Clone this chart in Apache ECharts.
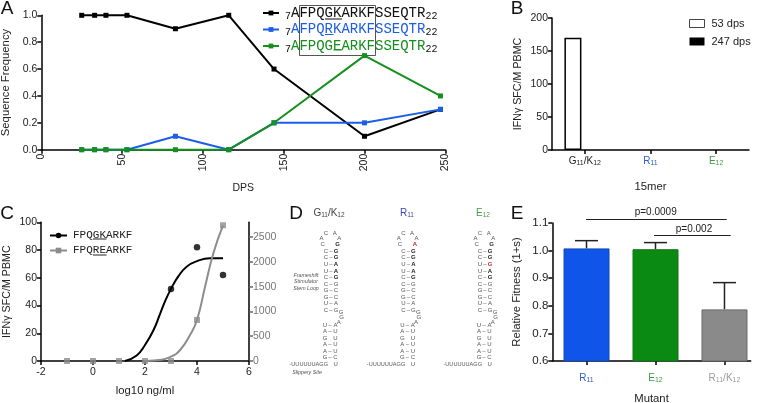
<!DOCTYPE html>
<html><head><meta charset="utf-8">
<style>html,body{margin:0;padding:0;background:#fff}#c{width:760px;height:403px}</style>
<script src="https://cdn.jsdelivr.net/npm/echarts@6/dist/echarts.min.js"></script>
</head><body><div id="c"></div>
<script>
// Panel A
const dps = [25,33,40,53,83,116,144,200,247];
const seqGK = [1,1,1,1,0.9,1,0.6,0.1,0.3];
const seqR  = [0,0,0,0,0.1,0,0.2,0.2,0.3];
const seqE  = [0,0,0,0,0,0,0.2,0.7,0.4];
const seqNames = ['AFPQGKARKFSSEQTR','AFPQRKARKFSSEQTR','AFPQGEARKFSSEQTR'];
// Panel B
const peptides = ['G11/K12','R11','E12'];
const dps53 = [170,0,0];
const dps247 = [0,0,0];
// Panel C
const gkDoses = [3,4,5];
const gkDots = [52,82,62];
const reDoses = [-1,0,1,2,3,4,5];
const reDots = [0,0,0,0,0,829,2740];
const gkFitX = [1.23,1.68,2,2.32,2.58,2.77,3,3.28,3.6,4,4.5,5];
const gkFitY = [0,4,11.5,22,34,43,52,61,68,72,74,74];
const reFitX = [1.95,2.45,3,3.35,3.73,4,4.31,4.63,5];
const reFitY = [0,13,88,222,525,829,1500,2177,2740];
// Panel E
const mutants = ['R11','E12','R11/K12'];
const fitness = [1.008,1.005,0.787];
const fitnessUpper = [1.036,1.029,0.884];
// Panel D
const stemUpper = ['C-G','C-G','U-A','U-A','C-G','C-G','G-C','G-C','U-A','C-G'];
const stemLower = ['U-A','A-U','G U','A-U','A-U','G-C'];
const loopTips = [['C','A','A','A','C','G'],['C','A','A','A','C','A'],['C','A','A','A','C','G']];

const BLUE='#1c5ee6', GREEN='#15901c', GRAY='#8c8c8c', FONT='"Liberation Sans"';
const MONO='"Liberation Mono"';
const chart = echarts.init(document.getElementById('c'),null,{renderer:'canvas'});

function axisBase(extra){
  return Object.assign({
    axisLine:{show:true,onZero:false,lineStyle:{color:'#000',width:1.5}},
    axisTick:{show:true,length:4,lineStyle:{color:'#000',width:1.5}},
    splitLine:{show:false},
    nameLocation:'middle',
    nameTextStyle:{color:'#222',fontSize:11.3,fontFamily:FONT},
  },extra);
}
const tickFont=(s,extra)=>Object.assign({color:'#222',fontSize:s,fontFamily:FONT,margin:4},extra||{});

const subStyle=(c,s)=>({color:c,fontSize:s,fontFamily:FONT,verticalAlign:'bottom',padding:[4,0,0,0]});
const mainStyle=(c,s)=>({color:c,fontSize:s,fontFamily:FONT});
const labelRich={
  k:mainStyle('#222',10), ks:subStyle('#222',7),
  b:mainStyle('#2f5fd0',10), bs:subStyle('#2f5fd0',7),
  g:mainStyle('#3f9a45',10), gs:subStyle('#3f9a45',7),
  y:mainStyle('#9a9a9a',10), ys:subStyle('#9a9a9a',7)
};
const peptideLabels={'G11/K12':'{k|G}{ks|11}{k|/K}{ks|12}','R11':'{b|R}{bs|11}','E12':'{g|E}{gs|12}'};
const mutantLabels=['{b|R}{bs|11}','{g|E}{gs|12}','{y|R}{ys|11}{y|/K}{ys|12}'];

const seqRich={
  n:{fontFamily:MONO,fontSize:14,color:'#111',lineHeight:14},
  u:{fontFamily:MONO,fontSize:14,color:BLUE,lineHeight:14},
  e:{fontFamily:MONO,fontSize:14,color:GREEN,lineHeight:14},
  s:{fontFamily:MONO,fontSize:10,color:'#111',verticalAlign:'bottom',padding:[6,0,0,0]}
};
const seqStyle={[seqNames[0]]:'n',[seqNames[1]]:'u',[seqNames[2]]:'e'};

const series=[
  {name:seqNames[0],type:'line',xAxisIndex:0,yAxisIndex:0,data:dps.map((d,i)=>[d,seqGK[i]]),
   color:'#000',symbol:'rect',symbolSize:5,lineStyle:{width:2,color:'#000'},clip:false,z:3},
  {name:seqNames[1],type:'line',xAxisIndex:0,yAxisIndex:0,data:dps.map((d,i)=>[d,seqR[i]]),
   color:BLUE,symbol:'rect',symbolSize:5,lineStyle:{width:2,color:BLUE},clip:false,z:4},
  {name:seqNames[2],type:'line',xAxisIndex:0,yAxisIndex:0,data:dps.map((d,i)=>[d,seqE[i]]),
   color:GREEN,symbol:'rect',symbolSize:5,lineStyle:{width:2,color:GREEN},clip:false,z:5},

  {name:'53 dps',type:'bar',xAxisIndex:1,yAxisIndex:1,barWidth:17,barGap:'40%',
   itemStyle:{color:'#fff',borderColor:'#000',borderWidth:0},
   data:dps53.map(v=>({value:v,itemStyle:{borderWidth:v>0?1.5:0}}))},
  {name:'247 dps',type:'bar',xAxisIndex:1,yAxisIndex:1,data:dps247,barWidth:17,
   itemStyle:{color:'#000'}},

  {name:'FPQGKARKF',type:'line',xAxisIndex:2,yAxisIndex:2,data:gkFitX.map((d,i)=>[d,gkFitY[i]]),
   color:'#000',symbol:'circle',showSymbol:false,smooth:0.5,lineStyle:{width:2,color:'#000'},clip:false,z:3},
  {name:'gk-dots',type:'scatter',xAxisIndex:2,yAxisIndex:2,data:gkDoses.map((d,i)=>[d,gkDots[i]]),
   color:'#000',symbol:'circle',symbolSize:6.5,clip:false,z:3},
  {name:'FPQREARKF',type:'line',xAxisIndex:2,yAxisIndex:3,data:reFitX.map((d,i)=>[d,reFitY[i]]),
   color:GRAY,symbol:'rect',showSymbol:false,smooth:0.5,lineStyle:{width:2,color:GRAY},clip:false,z:4},
  {name:'re-dots',type:'scatter',xAxisIndex:2,yAxisIndex:3,data:reDoses.map((d,i)=>[d,reDots[i]]),
   color:GRAY,symbol:'rect',symbolSize:6,clip:false,z:4},

  {name:'fitness',type:'bar',xAxisIndex:3,yAxisIndex:4,barWidth:46,
   data:fitness.map((v,i)=>({value:[i,v],itemStyle:{color:[ '#1055ea','#0a8a12','#8a8a8a'][i],borderColor:['#1a4aa8','#17701c','#6a6a6a'][i],borderWidth:1}}))},
  {name:'fitness-err',type:'custom',xAxisIndex:3,yAxisIndex:4,z:1,
   data:fitness.map((v,i)=>[i,v,fitnessUpper[i]]),
   renderItem:(p,api)=>{
     const a=api.coord([api.value(0),api.value(1)]), b=api.coord([api.value(0),api.value(2)]);
     const st={stroke:'#222',lineWidth:1.5};
     return {type:'group',children:[
       {type:'line',shape:{x1:a[0],y1:a[1],x2:b[0],y2:b[1]},style:st},
       {type:'line',shape:{x1:b[0]-11.5,y1:b[1],x2:b[0]+11.5,y2:b[1]},style:st}
     ]};
   }}
];

const g=[];
function txt(x,y,text,fill,font,align,rich){
  g.push({type:'text',x,y,silent:true,style:{text,fill,font,textAlign:align||'center',align:align||'center',textVerticalAlign:'middle',verticalAlign:'middle',rich}});
}
function seg(x1,y1,x2,y2,color,w){
  g.push({type:'line',silent:true,shape:{x1,y1,x2,y2},style:{stroke:color,lineWidth:w}});
}
const letterFont=`19px ${FONT}`;
txt(7,9,'A','#111',letterFont); txt(517,9,'B','#111',letterFont);
txt(7,214,'C','#111',letterFont); txt(296,214,'D','#111',letterFont); txt(517,214,'E','#111',letterFont);

g.push({type:'rect',silent:true,shape:{x:299.5,y:5.5,width:76,height:50},style:{fill:'none',stroke:'#555',lineWidth:1}});
seg(325,19,342,19,'#111',1); seg(325,34.5,333.5,34.5,BLUE,1); seg(333.5,50,342,50,GREEN,1);
seg(93,239,106.5,239,'#222',1); seg(93,255,106.5,255,'#222',1);

seg(586,219.5,726.7,219.5,'#222',1); txt(655.7,212,'p=0.0009','#222',`10px ${FONT}`);
seg(654,235.5,730.7,235.5,'#222',1); txt(694,229.3,'p=0.002','#222',`10px ${FONT}`);

const colCx=[331,408.3,485];
const dTitle=[['G{s|11}/K{s|12}','#444',329],['R{s|11}','#3a45b5',407],['E{s|12}','#4a9a4a',483]];
const dFont=`6px ${FONT}`, dBold=`bold 6px ${FONT}`, dInk='#555', dDark='#222', dRed='#c8282e';
dTitle.forEach(t=>txt(t[2],213,t[0],t[1],`10px ${FONT}`,'center',{s:{fill:t[1],font:`6.5px ${FONT}`,verticalAlign:'bottom',padding:[4,0,0,0]}}));
colCx.forEach((cx,c)=>{
  const tip=loopTips[c];
  const put=(dx,y,t,fill,font)=>txt(cx+dx,y,t,fill||dInk,font||dFont);
  put(-5,233.3,tip[0]); put(3.7,233.3,tip[1]);
  put(-9.5,238.3,tip[2]); put(8.3,238.3,tip[3]);
  put(-8.3,244.7,tip[4]);
  put(6.7,244.7,tip[5],c===1?dRed:dDark,dBold);
  stemUpper.forEach((p,i)=>{
    const y=251.3+i*6.53, strong=i<5;
    put(-5,y,p[0]); put(0,y,p[1]==='-'?'–':'');
    const red=(c===2&&i===2);
    put(5,y,red?'G':p[2],red?dRed:(strong?dDark:dInk),strong?dBold:dFont);
  });
  put(10,312,'G'); put(10.5,317.3,'G'); put(7.7,322,'A');
  stemLower.forEach((p,i)=>{
    const y=325.3+i*6.5;
    put(-6,y,p[0]); put(-1,y,p[1]==='-'?'–':''); put(4.5,y,p[2]);
  });
  txt(cx-3,364.3,'-UUUUUUAGG',dInk,`5.6px ${FONT}`,'right');
  put(4.7,364.3,'U');
});
const itFont=`italic 5.3px ${FONT}`;
txt(306,276,'Frameshift','#555',itFont); txt(306,282,'Stimulator','#555',itFont); txt(306,288.7,'Stem Loop','#555',itFont);
txt(307,373,'Slippery Site','#555',itFont);

const option={
  animation:false,
  textStyle:{fontFamily:FONT},
  grid:[
    {left:41.3,top:15.3,width:404,height:134.4,outerBoundsMode:'none'},
    {left:552,top:18,width:197,height:132,outerBoundsMode:'none'},
    {left:41,top:222.3,width:208,height:138.7,outerBoundsMode:'none'},
    {left:552.3,top:223,width:198.4,height:138,outerBoundsMode:'none'}
  ],
  xAxis:[
    axisBase({gridIndex:0,type:'value',min:0,max:250,interval:50,name:'DPS',nameGap:33,
      nameTextStyle:{color:'#222',fontSize:10.5,fontFamily:FONT},
      axisLabel:tickFont(10.5,{rotate:90,align:'right',verticalAlign:'middle'})}),
    axisBase({gridIndex:1,type:'category',data:peptides,name:'15mer',nameGap:31,
      axisTick:{show:true,alignWithLabel:true,interval:0,length:4,lineStyle:{color:'#000',width:1.5}},
      axisLabel:{interval:0,formatter:v=>peptideLabels[v],rich:labelRich,margin:6}}),
    axisBase({gridIndex:2,type:'value',min:-2,max:6,interval:2,name:'log10 ng/ml',nameGap:24,
      axisLabel:tickFont(10.5,{margin:6})}),
    axisBase({gridIndex:3,type:'value',min:-0.496,max:2.38,name:'Mutant',nameGap:32,
      axisTick:{show:true,length:4,customValues:[0,1,2],lineStyle:{color:'#000',width:1.5}},
      axisLabel:{customValues:[0,1,2],formatter:v=>mutantLabels[Math.round(v)],rich:labelRich,margin:12}})
  ],
  yAxis:[
    axisBase({gridIndex:0,type:'value',min:0,max:1,interval:0.2,name:'Sequence Frequency',nameGap:28,
      axisLabel:tickFont(10.5,{formatter:v=>v.toFixed(1)})}),
    axisBase({gridIndex:1,type:'value',min:0,max:200,interval:50,name:'IFNγ SFC/M PBMC',nameGap:28,
      nameTextStyle:{color:'#222',fontSize:10.7,fontFamily:FONT},axisLabel:tickFont(10.5)}),
    axisBase({gridIndex:2,type:'value',min:0,max:100,interval:20,name:'IFNγ SFC/M PBMC',nameGap:28,
      nameTextStyle:{color:'#222',fontSize:10.7,fontFamily:FONT},axisLabel:tickFont(10.5)}),
    axisBase({gridIndex:2,type:'value',position:'right',min:0,max:2800,
      axisTick:{show:true,length:4,customValues:[0,500,1000,1500,2000,2500],lineStyle:{color:'#666',width:1.5}},
      axisLabel:tickFont(10.5,{color:'#777',customValues:[0,500,1000,1500,2000,2500],formatter:v=>String(v)})}),
    axisBase({gridIndex:3,type:'value',min:0.6,max:1.1,interval:0.1,name:'Relative Fitness (1+s)',nameGap:30,
      axisLabel:tickFont(11.5,{formatter:v=>v.toFixed(1)})})
  ],
  legend:[
    {data:seqNames,left:262,top:6,orient:'vertical',padding:0,itemWidth:16,itemHeight:6,itemGap:1.5,align:'left',selectedMode:false,
     formatter:n=>`{s|7}{${seqStyle[n]}|${n}}{s|22}`,
     textStyle:{rich:seqRich,padding:[0,0,0,1]}},
    {data:[{name:'53 dps',icon:'rect',itemStyle:{borderWidth:1,borderColor:'#444'}},{name:'247 dps',icon:'rect'}],
     left:689,top:18,orient:'vertical',padding:0,itemWidth:15,itemHeight:8,itemGap:7,align:'left',selectedMode:false,
     textStyle:{color:'#222',fontSize:11,fontFamily:FONT,padding:[0,0,0,2]}},
    {data:['FPQGKARKF','FPQREARKF'],left:49,top:230,orient:'vertical',padding:0,itemWidth:17,itemHeight:7,itemGap:4,align:'left',selectedMode:false,
     textStyle:{color:'#222',fontSize:11,fontFamily:MONO,padding:[0,0,0,1]}}
  ],
  series,
  graphic:{elements:g}
};
chart.setOption(option);
</script></body></html>
